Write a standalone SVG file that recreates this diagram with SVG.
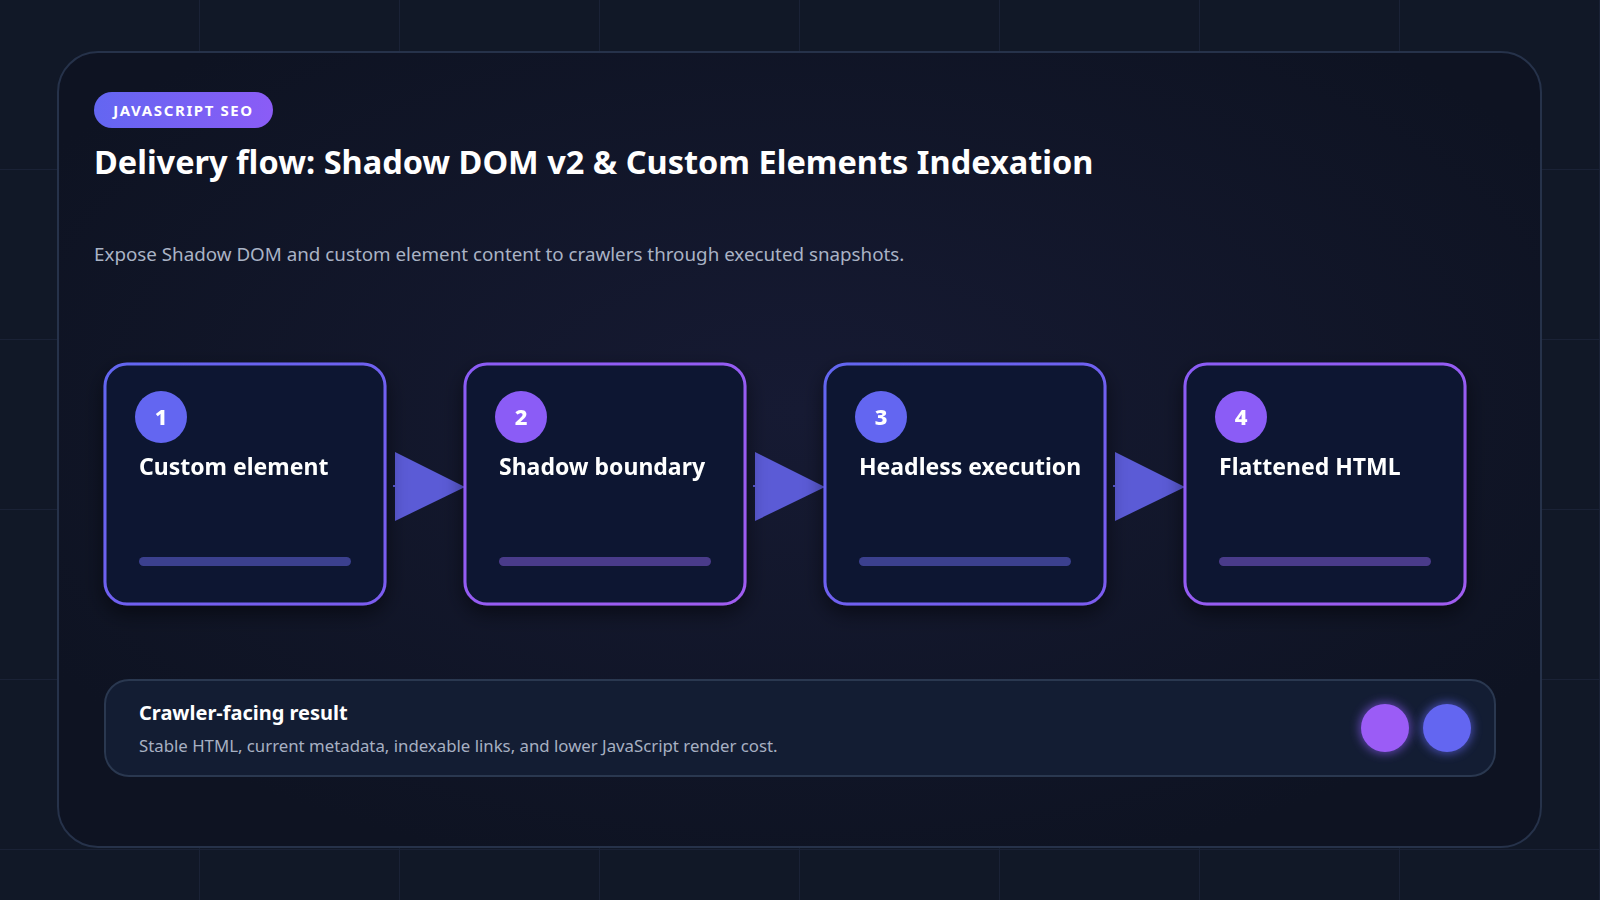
<svg xmlns="http://www.w3.org/2000/svg" width="1600" height="900" viewBox="0 0 1600 900">
<defs>
<style>
.t{font-family:"Noto Sans","Open Sans",sans-serif;fill:#fff}
.card{fill:#0c1830;stroke-width:3}
.lbl{font-size:23px;font-weight:700}
.num{font-size:22px;font-weight:800;text-anchor:middle}
</style>
<pattern id="grid" width="200" height="170" patternUnits="userSpaceOnUse"><path d="M200 0V170M0 170H200" stroke="#1a2236" stroke-width="2" fill="none"/></pattern>
<radialGradient id="glow" cx="0.5" cy="0.45" r="0.6"><stop offset="0" stop-color="#161a33"/><stop offset="1" stop-color="#0e1322"/></radialGradient>
<linearGradient id="g1" x1="0" y1="0" x2="1" y2="1"><stop offset="0" stop-color="#6366f1"/><stop offset="1" stop-color="#7c5cf0"/></linearGradient>
<linearGradient id="g2" x1="0" y1="0" x2="1" y2="1"><stop offset="0" stop-color="#8b5cf6"/><stop offset="1" stop-color="#a05cf0"/></linearGradient>
<linearGradient id="badge" x1="0" y1="0" x2="1" y2="0"><stop offset="0" stop-color="#6366f1"/><stop offset="1" stop-color="#8b5cf6"/></linearGradient>
<filter id="sh" x="-20%" y="-20%" width="140%" height="150%"><feDropShadow dx="0" dy="8" stdDeviation="10" flood-color="#000" flood-opacity="0.5"/></filter>
<filter id="gl" x="-50%" y="-50%" width="200%" height="200%"><feGaussianBlur stdDeviation="5"/></filter>
</defs>
<rect width="1600" height="900" fill="#111827"/>
<rect width="1600" height="900" fill="url(#grid)"/>
<rect x="58" y="52" width="1483" height="795" rx="40" fill="url(#glow)" stroke="#26324a" stroke-width="2"/>
<g id="header">
<rect x="94" y="92" width="179" height="36" rx="18" fill="url(#badge)"/>
<text class="t" x="183.5" y="116" font-size="15" font-weight="700" letter-spacing="1.6" text-anchor="middle">JAVASCRIPT SEO</text>
<text class="t" x="94" y="174" font-size="32.5" font-weight="700">Delivery flow: Shadow DOM v2 &amp; Custom Elements Indexation</text>
<text class="t" x="94" y="261" font-size="18.8" style="fill:#aab3c5">Expose Shadow DOM and custom element content to crawlers through executed snapshots.</text>
</g>
<g id="connectors" fill="#5b5bd6">
<path d="M393 485H400V487H393Z"/><polygon points="395,452 465,487 395,521"/>
<path d="M753 485H760V487H753Z"/><polygon points="755,452 825,487 755,521"/>
<path d="M1113 485H1120V487H1113Z"/><polygon points="1115,452 1185,487 1115,521"/>
</g>
<g id="node1" filter="url(#sh)">
<rect class="card" x="105" y="364" width="280" height="240" rx="22" stroke="url(#g1)"/>
<circle cx="161" cy="417" r="26" fill="#6366f1"/><text class="t num" x="161" y="425">1</text>
<text class="t lbl" x="139" y="475">Custom element</text>
<rect x="139" y="557" width="212" height="9" rx="4.5" fill="#3a3f8e"/>
</g>
<g id="node2" filter="url(#sh)">
<rect class="card" x="465" y="364" width="280" height="240" rx="22" stroke="url(#g2)"/>
<circle cx="521" cy="417" r="26" fill="#8b5cf6"/><text class="t num" x="521" y="425">2</text>
<text class="t lbl" x="499" y="475">Shadow boundary</text>
<rect x="499" y="557" width="212" height="9" rx="4.5" fill="#4a3a8a"/>
</g>
<g id="node3" filter="url(#sh)">
<rect class="card" x="825" y="364" width="280" height="240" rx="22" stroke="url(#g1)"/>
<circle cx="881" cy="417" r="26" fill="#6366f1"/><text class="t num" x="881" y="425">3</text>
<text class="t lbl" x="859" y="475">Headless execution</text>
<rect x="859" y="557" width="212" height="9" rx="4.5" fill="#3a3f8e"/>
</g>
<g id="node4" filter="url(#sh)">
<rect class="card" x="1185" y="364" width="280" height="240" rx="22" stroke="url(#g2)"/>
<circle cx="1241" cy="417" r="26" fill="#8b5cf6"/><text class="t num" x="1241" y="425">4</text>
<text class="t lbl" x="1219" y="475">Flattened HTML</text>
<rect x="1219" y="557" width="212" height="9" rx="4.5" fill="#4a3a8a"/>
</g>
<g id="result">
<rect x="105" y="680" width="1390" height="96" rx="24" fill="#131d33" stroke="#2a3850" stroke-width="2"/>
<text class="t" x="139" y="720" font-size="20" font-weight="700">Crawler-facing result</text>
<text class="t" x="139" y="752" font-size="16.8" style="fill:#a7b0c2">Stable HTML, current metadata, indexable links, and lower JavaScript render cost.</text>
<circle cx="1385" cy="728" r="26" fill="#8b5cf6" opacity="0.6" filter="url(#gl)"/>
<circle cx="1447" cy="728" r="26" fill="#6366f1" opacity="0.6" filter="url(#gl)"/>
<circle cx="1385" cy="728" r="24" fill="#9b5cf6"/>
<circle cx="1447" cy="728" r="24" fill="#6366f1"/>
</g>
</svg>
